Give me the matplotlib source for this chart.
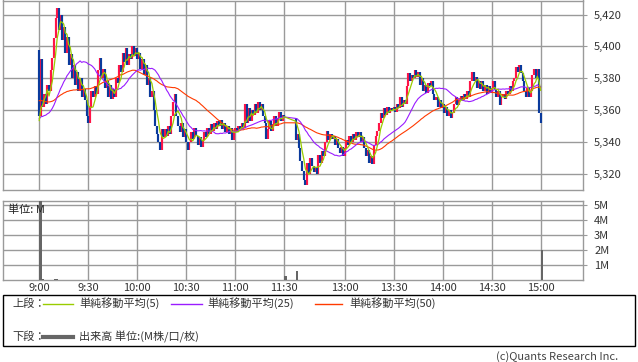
import matplotlib
matplotlib.use("Agg")
import matplotlib.pyplot as plt
import numpy as np
import pandas as pd
from matplotlib.lines import Line2D

plt.rcParams['font.family'] = ['Noto Sans CJK JP', 'DejaVu Sans']

# ---------------- data ----------------
first_open = 5398
# previous-day closes (used only to seed the moving averages)
prev_closes = [5380, 5381, 5379, 5378, 5380, 5377, 5376, 5378, 5379, 5377,
               5375, 5376, 5378, 5377, 5376, 5375, 5377, 5378, 5376, 5374,
               5375, 5377, 5376, 5378, 5377, 5360, 5358, 5357, 5356, 5355,
               5357, 5354, 5353, 5355, 5356, 5354, 5353, 5352, 5355, 5354,
               5353, 5352, 5354, 5355, 5353, 5352, 5354, 5353, 5352]

# 1-minute closes, morning session 9:00 - 11:30
morning_closes = [
    5356, 5392, 5362, 5370, 5364, 5376, 5372, 5385, 5393, 5405,
    5418, 5424, 5410, 5420, 5404, 5412, 5396, 5406, 5388, 5395,
    5380, 5388, 5376, 5384, 5372, 5380, 5368, 5373, 5366, 5356,
    5352, 5362, 5372, 5368, 5375, 5370, 5385, 5393, 5380, 5386,
    5374, 5378, 5368, 5376, 5367, 5373, 5368, 5380, 5377, 5388,
    5384, 5396, 5390, 5399, 5388, 5395, 5392, 5400, 5394, 5399,
    5392, 5396, 5386, 5392, 5382, 5388, 5376, 5380, 5368, 5372,
    5360, 5350, 5345, 5340, 5335, 5348, 5343, 5348, 5344, 5350,
    5345, 5356, 5365, 5370, 5356, 5350, 5346, 5352, 5343, 5348,
    5340, 5335, 5340, 5346, 5342, 5349, 5344, 5338, 5343, 5337,
    5341, 5346, 5343, 5349, 5345, 5351, 5347, 5352, 5348, 5353,
    5350, 5354, 5348, 5352, 5346, 5350, 5345, 5349, 5341, 5346,
    5349, 5346, 5350, 5348, 5352, 5349, 5364, 5352, 5361, 5353,
    5360, 5357, 5364, 5358, 5365, 5360, 5364, 5356, 5352, 5342,
    5348, 5353, 5347, 5351, 5356, 5350, 5355, 5359, 5353, 5357,
    5355]

# 1-minute closes, afternoon session 12:30 - 15:00
afternoon_closes = [
    5341, 5345, 5336, 5328, 5322, 5316, 5313, 5327, 5320, 5330,
    5325, 5321, 5324, 5320, 5332, 5327, 5334, 5331, 5340, 5347,
    5341, 5345, 5342, 5344, 5338, 5342, 5336, 5333, 5337, 5331,
    5336, 5341, 5338, 5344, 5340, 5345, 5341, 5346, 5343, 5346,
    5340, 5343, 5336, 5331, 5335, 5327, 5331, 5326, 5338, 5344,
    5347, 5352, 5358, 5355, 5361, 5357, 5362, 5358, 5361, 5360,
    5362, 5359, 5364, 5361, 5368, 5362, 5366, 5364, 5375, 5383,
    5378, 5382, 5380, 5385, 5381, 5384, 5376, 5380, 5372, 5376,
    5371, 5377, 5375, 5378, 5370, 5366, 5368, 5362, 5366, 5361,
    5364, 5358, 5362, 5356, 5360, 5355, 5358, 5364, 5368, 5363,
    5366, 5369, 5366, 5370, 5367, 5372, 5368, 5378, 5384, 5378,
    5381, 5374, 5378, 5373, 5378, 5372, 5376, 5370, 5375, 5371,
    5374, 5378, 5373, 5368, 5372, 5363, 5368, 5370, 5367, 5372,
    5370, 5375, 5372, 5378, 5380, 5387, 5384, 5388, 5383, 5378,
    5372, 5368, 5374, 5368, 5372, 5382, 5386, 5380, 5386, 5358,
    5352]

# visible volume bars (million shares)
vol_times = ["9:00", "9:01", "9:09", "9:10", "11:30", "12:30", "15:00"]
vol_values = [5.6, 0.06, 0.12, 0.10, 0.30, 0.65, 2.05]

price_ticks = [5320, 5340, 5360, 5380, 5400, 5420]
vol_ticks = [1, 2, 3, 4, 5]
time_labels = ["9:00", "9:30", "10:00", "10:30", "11:00", "11:30",
               "13:00", "13:30", "14:00", "14:30", "15:00"]

# ---------------- layout helpers ----------------
LUNCH_GAP = 7  # compressed lunch break


def tpos(s):
    h, m = map(int, s.split(":"))
    mins = h * 60 + m
    if mins <= 11 * 60 + 30:
        return mins - 9 * 60
    return 150 + LUNCH_GAP + (mins - (12 * 60 + 30))


x_m = np.arange(len(morning_closes))
x_a = 150 + LUNCH_GAP + np.arange(len(afternoon_closes))
xs = np.concatenate([x_m, x_a])
closes = np.array(morning_closes + afternoon_closes, dtype=float)
opens = np.concatenate([[first_open], closes[:-1]])

full = pd.Series(prev_closes + morning_closes + afternoon_closes, dtype=float)
n0 = len(prev_closes)
ma5 = full.rolling(5, min_periods=1).mean().values[n0:]
ma25 = full.rolling(25, min_periods=1).mean().values[n0:]
ma50 = full.rolling(50, min_periods=1).mean().values[n0:]

UP = "#ff1447"
DOWN = "#0a3a9c"
C5 = "#99cc00"
C25 = "#9a1cff"
C50 = "#ff3a00"
GRID = "#9a9a9a"
TXT = "#333333"

W, H = 638, 362
fig = plt.figure(figsize=(W / 100, H / 100), dpi=100)
fig.patch.set_facecolor("white")


def fx(px):
    return px / W


def fy(py):
    return 1 - py / H


L, R = 3.3, 583.0
ax = fig.add_axes([fx(L), fy(190.3), fx(R - L), fy(0.5) - fy(190.3)])
axv = fig.add_axes([fx(L), fy(280.3), fx(R - L), fy(201) - fy(280.3)])

xlim = (-22, 333)
tick_pos = [tpos(t) for t in time_labels]

for a in (ax, axv):
    a.set_xlim(*xlim)
    for s in a.spines.values():
        s.set_color(GRID)
        s.set_linewidth(1.0)
    a.set_xticks(tick_pos)
    a.grid(True, color=GRID, linewidth=1.0)
    a.set_axisbelow(True)
    a.yaxis.tick_right()
    a.tick_params(axis="y", length=3, width=0.8, color=GRID, pad=5,
                  labelsize=8, labelcolor=TXT)
    a.tick_params(axis="x", length=0, pad=2, labelsize=8, labelcolor=TXT)

# candles
up = closes >= opens
lo = np.minimum(opens, closes)
hi = np.maximum(opens, closes)
hi = np.where(hi - lo < 0.8, lo + 0.8, hi)
ax.vlines(xs[up], lo[up], hi[up], colors=UP, linewidth=1.55, zorder=3)
ax.vlines(xs[~up], lo[~up], hi[~up], colors=DOWN, linewidth=1.55, zorder=3)

ax.plot(xs, ma50, color=C50, linewidth=0.8, zorder=4)
ax.plot(xs, ma25, color=C25, linewidth=0.8, zorder=4)
ax.plot(xs, ma5, color=C5, linewidth=0.9, zorder=5)

ax.set_ylim(5309.6, 5428.8)
ax.set_yticks(price_ticks)
ax.set_yticklabels([f"{v:,}" for v in price_ticks])
ax.set_xticklabels([])

# volume
vx = [tpos(t) for t in vol_times]
axv.bar(vx, vol_values, width=1.7, align="edge", color="#666666", zorder=3)
axv.set_ylim(0, 5.3)
axv.set_yticks(vol_ticks)
axv.set_yticklabels([f"{v}M" for v in vol_ticks])
axv.set_xticklabels(time_labels)
axv.text(fx(8), fy(210), "単位: M", transform=fig.transFigure, fontsize=8,
         color="#222222", va="center", ha="left", zorder=10)

# legend box
box = plt.Rectangle((fx(3.3), fy(346)), fx(634.5 - 3.3), fy(295) - fy(346),
                    transform=fig.transFigure, fill=False, edgecolor="black",
                    linewidth=1.0)
fig.add_artist(box)

ly1, ly2 = 303.5, 336.5
fs = 8
fig.text(fx(12), fy(ly1), "上段：", fontsize=fs, color=TXT, va="center")
fig.text(fx(12), fy(ly2), "下段：", fontsize=fs, color=TXT, va="center")
items = [(43, 73, 79, C5, "単純移動平均(5)"),
         (171, 202, 207, C25, "単純移動平均(25)"),
         (315, 342, 349, C50, "単純移動平均(50)")]
for x0, x1, xt, c, lab in items:
    fig.add_artist(Line2D([fx(x0), fx(x1)], [fy(ly1), fy(ly1)],
                          transform=fig.transFigure, color=c, linewidth=1.0))
    fig.text(fx(xt), fy(ly1), lab, fontsize=fs, color=TXT, va="center")
fig.add_artist(Line2D([fx(43), fx(73)], [fy(ly2), fy(ly2)],
                      transform=fig.transFigure, color="#666666", linewidth=3.0))
fig.text(fx(79), fy(ly2), "出来高 単位:(M株/口/枚)", fontsize=fs, color=TXT,
         va="center")

fig.text(fx(618), fy(357), "(c)Quants Research Inc.", fontsize=8,
         color="#444444", va="center", ha="right")

fig.savefig("out.png", dpi=100)
